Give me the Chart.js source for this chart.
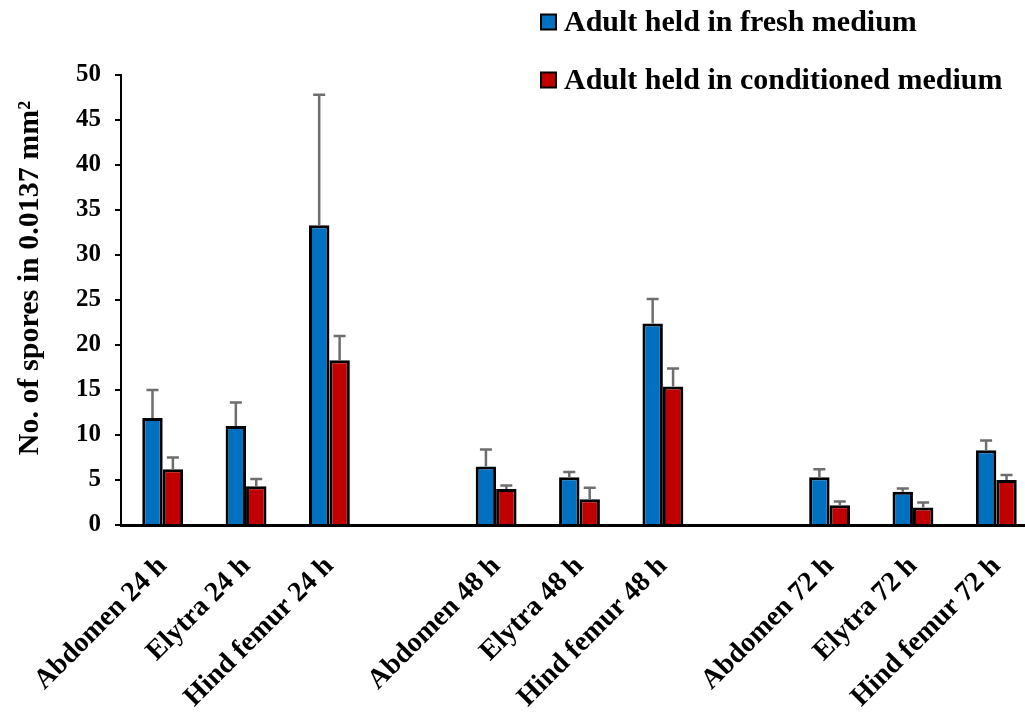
<!DOCTYPE html>
<html>
<head>
<meta charset="utf-8">
<script src="https://cdn.jsdelivr.net/npm/chart.js@4/dist/chart.umd.min.js"></script>
<style>
  html, body { margin: 0; padding: 0; background: #ffffff; }
  #wrap { width: 1025px; height: 718px; overflow: hidden; position: relative; }
  canvas { display: block; }
</style>
</head>
<body>
<div id="wrap"><canvas id="c" width="1038" height="718"></canvas></div>
<script>
// Body parts sampled at each exposure time (blank slots separate the time groups)
const categories = [
  'Abdomen 24 h', 'Elytra 24 h', 'Hind femur 24 h', '',
  'Abdomen 48 h', 'Elytra 48 h', 'Hind femur 48 h', '',
  'Abdomen 72 h', 'Elytra 72 h', 'Hind femur 72 h'
];
const seriesNames = ['Adult held in fresh medium', 'Adult held in conditioned medium'];

// Mean spore counts per 0.0137 mm²
const freshMean       = [11.9, 11.0, 33.3, null, 6.5, 5.3, 22.4, null, 5.3, 3.7, 8.3];
const conditionedMean = [6.2, 4.3, 18.3, null, 4.0, 2.85, 15.4, null, 2.2, 1.95, 5.0];

// Upper error (standard error) for each mean
const freshErr        = [3.1, 2.6, 14.5, null, 1.9, 0.6, 2.7, null, 0.9, 0.35, 1.1];
const conditionedErr  = [1.3, 0.8, 2.7, null, 0.4, 1.3, 2.0, null, 0.4, 0.55, 0.55];

const yTicks = [0, 5, 10, 15, 20, 25, 30, 35, 40, 45, 50];
const yTitle = 'No. of spores in 0.0137 mm\u00B2';

const FONT = '"Liberation Serif", "Times New Roman", serif';
const errors = [freshErr, conditionedErr];

// Upward-only error bars with caps, placed on each bar's own x position
const errorBars = {
  id: 'errorBars',
  afterDatasetsDraw(chart) {
    const ctx = chart.ctx;
    const y = chart.scales.y;
    ctx.save();
    ctx.strokeStyle = '#6e6e6e';
    ctx.lineWidth = 2.5;
    chart.data.datasets.forEach((ds, i) => {
      const meta = chart.getDatasetMeta(i);
      meta.data.forEach((bar, j) => {
        const v = ds.data[j];
        const e = errors[i][j];
        if (v == null || e == null) return;
        const x = bar.x;
        const y0 = y.getPixelForValue(v);
        const y1 = y.getPixelForValue(v + e);
        ctx.beginPath();
        ctx.moveTo(x, y0);
        ctx.lineTo(x, y1);
        ctx.moveTo(x - 6, y1);
        ctx.lineTo(x + 6, y1);
        ctx.stroke();
      });
    });
    ctx.restore();
  }
};

// Legend in the upper right and the rotated y-axis title
const decorations = {
  id: 'decorations',
  afterDraw(chart) {
    const ctx = chart.ctx;
    ctx.save();
    const rows = [22, 80];
    chart.data.datasets.forEach((ds, i) => {
      const cy = rows[i];
      ctx.fillStyle = ds.backgroundColor;
      ctx.fillRect(541, cy - 7.5, 15, 15);
      ctx.strokeStyle = '#000000';
      ctx.lineWidth = 2;
      ctx.strokeRect(541, cy - 7.5, 15, 15);
      ctx.fillStyle = '#000000';
      ctx.font = 'bold 30px ' + FONT;
      ctx.textAlign = 'left';
      ctx.textBaseline = 'middle';
      ctx.fillText(ds.label, 564, cy + 1);
    });
    ctx.translate(30, 278);
    ctx.rotate(-Math.PI / 2);
    ctx.font = 'bold 30px ' + FONT;
    ctx.textAlign = 'center';
    ctx.textBaseline = 'middle';
    ctx.fillStyle = '#000000';
    ctx.fillText(yTitle, 0, 0);
    ctx.restore();
  }
};

new Chart(document.getElementById('c'), {
  type: 'bar',
  data: {
    labels: categories,
    datasets: [
      {
        label: seriesNames[0],
        data: freshMean,
        backgroundColor: '#0070C0',
        borderColor: '#000000',
        borderWidth: 3,
        categoryPercentage: 0.49,
        barPercentage: 1.0
      },
      {
        label: seriesNames[1],
        data: conditionedMean,
        backgroundColor: '#C00000',
        borderColor: '#000000',
        borderWidth: 3,
        categoryPercentage: 0.49,
        barPercentage: 1.0
      }
    ]
  },
  options: {
    responsive: false,
    animation: false,
    layout: { padding: { top: 75, left: 0, right: 0, bottom: 0 } },
    plugins: {
      legend: { display: false },
      tooltip: { enabled: false }
    },
    scales: {
      x: {
        offset: true,
        grid: { display: true, drawOnChartArea: false, drawTicks: false },
        border: { display: true, color: '#000000', width: 3 },
        ticks: {
          autoSkip: false,
          minRotation: 45,
          maxRotation: 45,
          padding: 25,
          color: '#000000',
          font: { family: FONT, size: 28, weight: 'bold' }
        },
        afterFit(scale) {
          scale.height = 193;
          scale.paddingLeft = 0;
          scale.paddingRight = 0;
        }
      },
      y: {
        min: 0,
        max: 50,
        afterBuildTicks(scale) { scale.ticks = yTicks.map(v => ({ value: v })); },
        grid: { drawOnChartArea: false, drawTicks: true, tickLength: 6, color: '#000000', lineWidth: 2 },
        border: { display: true, color: '#000000', width: 2 },
        ticks: {
          padding: 14,
          color: '#000000',
          font: { family: FONT, size: 25, weight: 'bold' }
        },
        afterFit(scale) { scale.width = 121; }
      }
    }
  },
  plugins: [errorBars, decorations]
});
</script>
</body>
</html>
